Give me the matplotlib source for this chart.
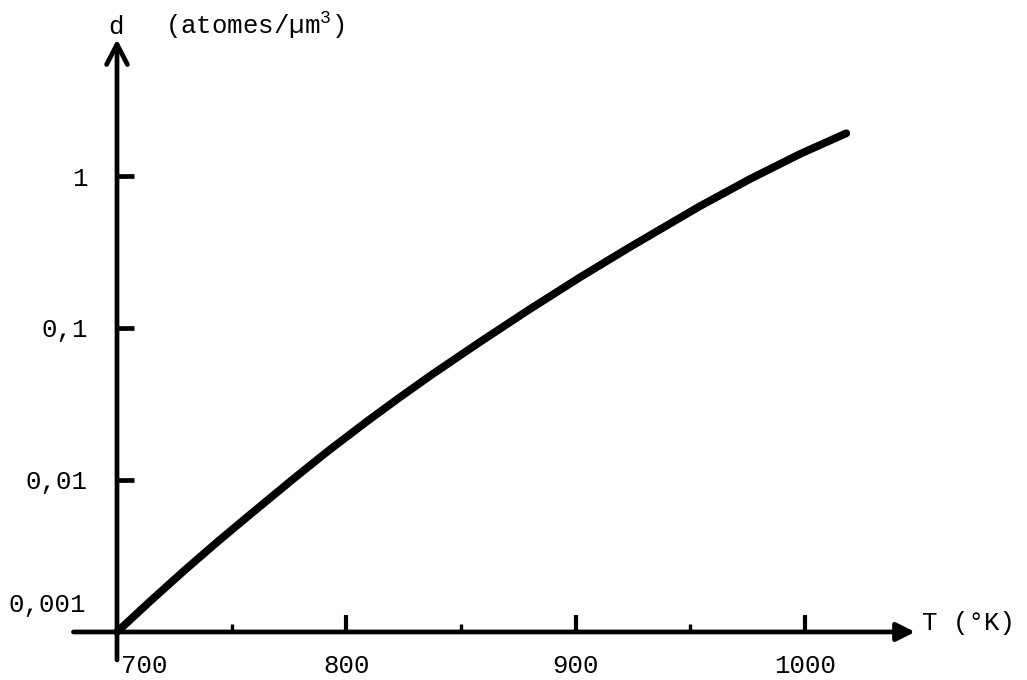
import matplotlib
matplotlib.use("Agg")
import matplotlib.pyplot as plt
from matplotlib.ticker import FixedLocator, NullLocator

# Equilibrium density of atoms versus temperature
temperature_K = [700, 714, 729, 744, 757, 777, 792, 809, 823, 837, 858, 880,
                 902, 924, 954, 976, 998, 1018]
density = [0.0010, 0.00157, 0.00251, 0.00394, 0.00575, 0.0102, 0.0155, 0.0243,
           0.0347, 0.0490, 0.0804, 0.133, 0.216, 0.343, 0.631, 0.955, 1.40, 1.91]

y_ticks = [0.01, 0.1, 1]
y_tick_labels = ["0,01", "0,1", "1"]
x_major_ticks = [800, 900, 1000]
x_major_labels = ["800", "900", "1000"]
x_minor_ticks = [750, 850, 950]

plt.rcParams["font.family"] = ["Liberation Mono", "DejaVu Sans Mono"]
plt.rcParams["mathtext.default"] = "regular"

FS = 18.5
LW_AXIS = 3.4

fig = plt.figure(figsize=(10.27, 6.8), dpi=100)
ax = fig.add_axes([0, 0, 1, 1])
ax.set_yscale("log")
ax.set_xlim(648.98, 1096.8)
ax.set_ylim(10 ** -3.316, 10 ** 1.158)

for side in ax.spines.values():
    side.set_visible(False)
ax.spines["left"].set_position(("data", 700))
ax.spines["bottom"].set_position(("data", 0.001))

# axes drawn as arrows
ax.annotate("", xy=(700, 10 ** 0.90), xytext=(700, 10 ** -3.184),
            arrowprops=dict(arrowstyle="->,head_length=1.45,head_width=0.75",
                            lw=LW_AXIS, color="black", shrinkA=0, shrinkB=0,
                            mutation_scale=10))
ax.annotate("", xy=(1048, 0.001), xytext=(681, 0.001),
            arrowprops=dict(arrowstyle="-|>,head_length=1.1,head_width=0.55",
                            lw=LW_AXIS, color="black", shrinkA=0, shrinkB=0,
                            mutation_scale=10))

# ticks
ax.yaxis.set_major_locator(FixedLocator(y_ticks))
ax.yaxis.set_minor_locator(NullLocator())
ax.set_yticklabels(y_tick_labels)
ax.xaxis.set_major_locator(FixedLocator(x_major_ticks))
ax.xaxis.set_minor_locator(FixedLocator(x_minor_ticks))
ax.set_xticklabels(x_major_labels)
ax.tick_params(axis="y", which="major", direction="in", length=12, width=3.4,
               pad=21, labelsize=FS)
ax.tick_params(axis="x", which="major", direction="in", length=12, width=3.0,
               pad=16, labelsize=FS)
ax.tick_params(axis="x", which="minor", direction="in", length=6, width=2.4)

# curve
ax.plot(temperature_K, density, color="black", lw=5.6,
        solid_capstyle="round", solid_joinstyle="round")

# extra labels
ax.text(686.5, 0.001355, "0,001", ha="right", va="baseline", fontsize=FS)
ax.text(701.7, 10 ** -3.27, "700", ha="left", va="baseline", fontsize=FS)
ax.text(699.5, 10 ** 0.934, "d", ha="center", va="baseline", fontsize=FS)
ax.text(720.9, 10 ** 0.934, "(atomes/µm$^{3}$)", ha="left", va="baseline",
        fontsize=FS)
ax.text(1051, 10 ** -2.99, "T (°K)", ha="left", va="baseline", fontsize=FS)

fig.savefig("out.png", dpi=100)
